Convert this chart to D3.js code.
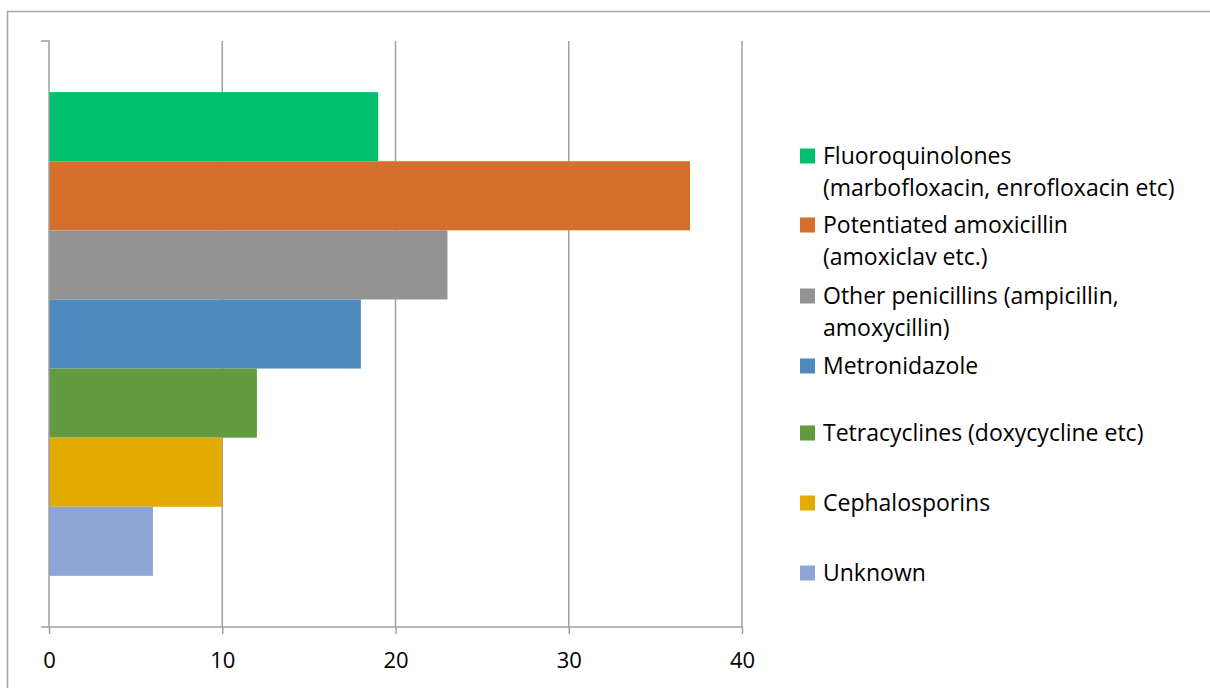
<!DOCTYPE html>
<html>
<head>
<meta charset="utf-8">
<script src="https://cdn.jsdelivr.net/npm/d3@7"></script>
<style>
  html, body { margin: 0; padding: 0; background: #fff; }
  svg { display: block; font-family: "Open Sans", Lato, sans-serif; }
</style>
</head>
<body>
<svg id="chart" width="1210" height="688"></svg>
<script>
// Antibiotic classes (one bar each), values and legend wording
const seriesNames = [
  "Fluoroquinolones",
  "Potentiated amoxicillin",
  "Other penicillins",
  "Metronidazole",
  "Tetracyclines",
  "Cephalosporins",
  "Unknown"
];
const legendLines = [
  ["Fluoroquinolones", "(marbofloxacin, enrofloxacin etc)"],
  ["Potentiated amoxicillin", "(amoxiclav etc.)"],
  ["Other penicillins (ampicillin,", "amoxycillin)"],
  ["Metronidazole"],
  ["Tetracyclines (doxycycline etc)"],
  ["Cephalosporins"],
  ["Unknown"]
];
const seriesValues = [19, 37, 23, 18, 12, 10, 6];
const seriesColors = ["#00BF6F", "#D4702B", "#939393", "#4F89BE", "#629A3F", "#E3AA00", "#8FA5D5"];
const xTicks = [0, 10, 20, 30, 40];

const svg = d3.select("#chart");
const fontFamily = "'Open Sans', Lato, sans-serif";

// outer chart frame (only top and left edges fall inside the view)
svg.append("rect")
  .attr("x", 7.5).attr("y", 11.5)
  .attr("width", 1220).attr("height", 700)
  .attr("fill", "none").attr("stroke", "#a6a6a6").attr("stroke-width", 1.5);

const plot = { left: 49, right: 742, top: 41, bottom: 627 };

const x = d3.scaleLinear().domain([0, 40]).range([plot.left, plot.right]);
const y = d3.scaleBand().domain(seriesNames)
  .range([plot.top, plot.bottom])
  .paddingInner(0).paddingOuter(0.74);

// vertical gridlines
svg.append("g").selectAll("line")
  .data(xTicks.slice(1))
  .join("line")
  .attr("x1", d => x(d)).attr("x2", d => x(d))
  .attr("y1", plot.top).attr("y2", plot.bottom)
  .attr("stroke", "#a0a0a0").attr("stroke-width", 1.5);

// bars
svg.append("g").selectAll("rect")
  .data(seriesNames)
  .join("rect")
  .attr("x", x(0))
  .attr("y", d => y(d))
  .attr("width", (d, i) => x(seriesValues[i]) - x(0))
  .attr("height", y.bandwidth())
  .attr("fill", (d, i) => seriesColors[i]);

// x axis
const xAxis = svg.append("g")
  .attr("transform", `translate(0,${plot.bottom})`)
  .call(d3.axisBottom(x).tickValues(xTicks).tickSize(7).tickPadding(18).tickSizeOuter(0));
xAxis.select(".domain")
  .attr("d", `M${plot.left - 8},0H${plot.right}`)
  .attr("stroke", "#a0a0a0").attr("stroke-width", 1.5);
xAxis.selectAll(".tick line").attr("stroke", "#a0a0a0").attr("stroke-width", 1.5);
xAxis.selectAll(".tick text")
  .attr("fill", "#000").attr("font-size", 22)
  .attr("font-family", fontFamily);

// y axis (single category, no labels)
const yAxis = svg.append("g")
  .attr("transform", `translate(${plot.left},0)`)
  .call(d3.axisLeft(d3.scaleLinear().range([plot.top, plot.bottom])).tickValues([]).tickSizeOuter(8));
yAxis.select(".domain")
  .attr("d", `M-8,${plot.top}H0V${plot.bottom}`)
  .attr("fill", "none")
  .attr("stroke", "#a0a0a0").attr("stroke-width", 1.5);

// legend
const legendY = [156, 225, 296, 366, 433, 503, 573];
const legend = svg.append("g");
const items = legend.selectAll("g")
  .data(seriesNames)
  .join("g")
  .attr("transform", (d, i) => `translate(800,${legendY[i]})`);
items.append("rect")
  .attr("x", 0).attr("y", -7.5)
  .attr("width", 15).attr("height", 15)
  .attr("fill", (d, i) => seriesColors[i]);
items.each(function(d, i) {
  const t = d3.select(this).append("text")
    .attr("x", 23).attr("y", 7.5)
    .attr("font-size", 23).attr("fill", "#000")
    .attr("font-family", fontFamily);
  legendLines[i].forEach((line, j) => {
    t.append("tspan").attr("x", 23).attr("dy", j === 0 ? 0 : 32).text(line);
  });
});
</script>
</body>
</html>
